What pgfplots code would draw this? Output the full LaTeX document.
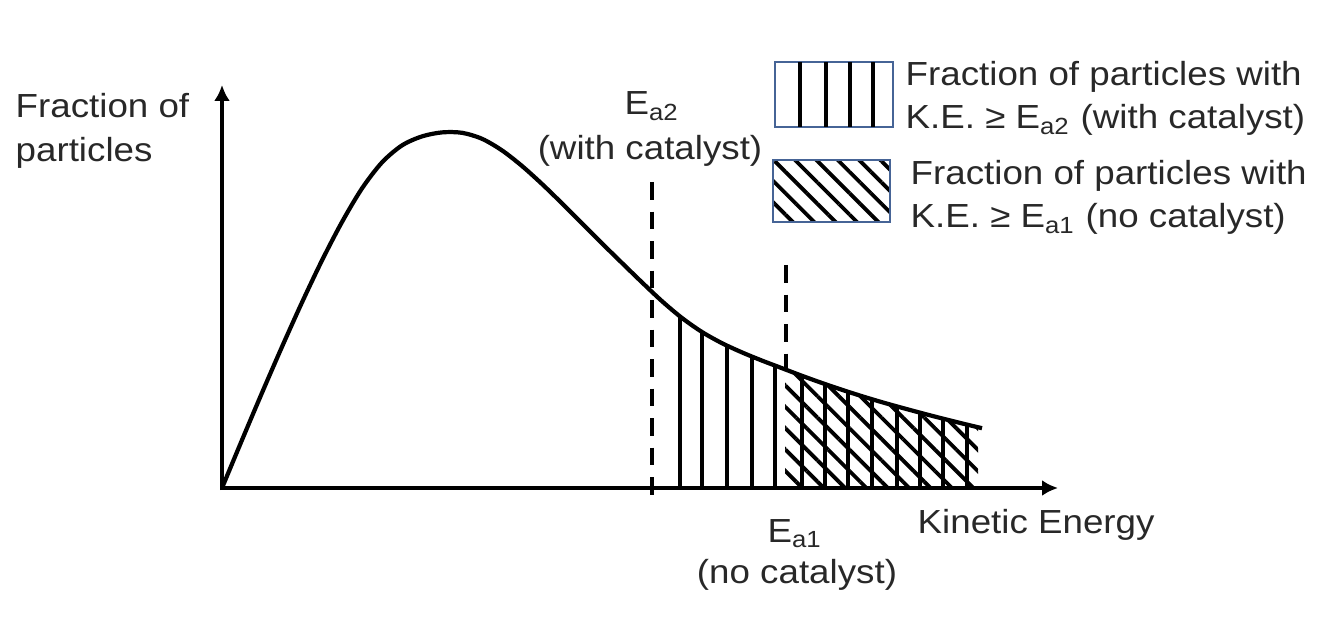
\documentclass[border=0pt]{standalone}
\usepackage{fontspec}
\setmainfont{Liberation Sans}[FakeStretch=1.1]
\usepackage{pgfplots}
\pgfplotsset{compat=1.18}
\usetikzlibrary{patterns.meta,arrows.meta}
\definecolor{legblue}{RGB}{70,100,150}
\definecolor{txt}{RGB}{40,40,40}
\begin{document}
\begin{tikzpicture}[font=\fontsize{9.5}{12.2}\selectfont]
\begin{axis}[hide axis, scale only axis, width=13.4cm, height=6.26cm,
  xmin=0, xmax=1340, ymin=-138, ymax=488, clip=false,
  cycle list={{black}}, no markers]
% vertical hatch (K.E. >= Ea2)
\addplot[ycomb, black, line width=1.1pt] coordinates {
 (680,171.7)(702,156)(727,142.5)(752,131.5)(775,122.5)(802,112.2)(825,104)(848,96.3)
 (872,88.8)(897,81.6)(920,75.3)(943,69.3)(967,63.4)};
% diagonal hatch (K.E. >= Ea1)
\addplot[draw=none, pattern={Lines[angle=-45,distance=4.3pt,line width=1.1pt]}] coordinates {
 (785,0)(785,118.7)(802,112.2)(822,105.0)(842,98.2)(862,91.8)(882,85.8)(902,80.2)(922,74.8)(942,69.6)(962,64.6)(978,60.8)(978,0)} --cycle;
% distribution curve
\addplot[black, line width=1.2pt, smooth] coordinates {
 (222,0)(242,48)(262,95.2)(282,141.2)(302,185.6)(322,227.6)(342,266.0)(362,299.6)
 (382,325.6)(402,342.6)(422,351.6)(442,355.6)(462,355.2)(482,349.2)(502,337.6)
 (522,322.0)(542,304.0)(562,284.6)(582,264.6)(602,244.6)(622,225.0)(642,205.6)
 (662,186.8)(682,170.0)(702,156.0)(722,144.8)(742,135.6)(762,127.4)(782,119.8)
 (802,112.2)(822,105.0)(842,98.2)(862,91.8)(882,85.8)(902,80.2)(922,74.8)
 (942,69.6)(962,64.6)(982,59.8)};
% dashed activation energy lines
\addplot[black, line width=1.1pt, dash pattern=on 5pt off 3.4pt] coordinates {(652,306)(652,-7)};
\addplot[black, line width=1.1pt, dash pattern=on 5pt off 3.4pt] coordinates {(786,223)(786,116)};
% axes
\addplot[black, line width=1.1pt, -{Latex[length=1.6mm,width=1.6mm]}] coordinates {(222,-2)(222,403)};
\addplot[black, line width=1.1pt, -{Latex[length=1.6mm,width=1.6mm]}] coordinates {(221,0)(1058,0)};
% legend boxes
\addplot[draw=legblue, line width=0.8pt, fill=white] coordinates {(775,361)(893,361)(893,426)(775,426)} --cycle;
\addplot[black, line width=1.1pt] coordinates {(800,361)(800,426)};
\addplot[black, line width=1.1pt] coordinates {(826,361)(826,426)};
\addplot[black, line width=1.1pt] coordinates {(850,361)(850,426)};
\addplot[black, line width=1.1pt] coordinates {(873,361)(873,426)};
\addplot[draw=legblue, line width=0.8pt, pattern={Lines[angle=-45,distance=4.3pt,line width=1.1pt]}] coordinates {(773,266)(890,266)(890,328)(773,328)} --cycle;
% texts
\node[anchor=base west, inner sep=0, txt] at (axis cs:15,370) {Fraction of};
\node[anchor=base west, inner sep=0, txt] at (axis cs:15,326) {particles};
\node[anchor=base, inner sep=0, txt] at (axis cs:652,373) {E\textsubscript{a2}};
\node[anchor=base, inner sep=0, txt] at (axis cs:650,328) {(with catalyst)};
\node[anchor=base west, inner sep=0, txt] at (axis cs:905,402) {Fraction of particles with};
\node[anchor=base west, inner sep=0, txt] at (axis cs:905,359) {K.E. ≥ E\textsubscript{a2} (with catalyst)};
\node[anchor=base west, inner sep=0, txt] at (axis cs:910,303) {Fraction of particles with};
\node[anchor=base west, inner sep=0, txt] at (axis cs:910,260) {K.E. ≥ E\textsubscript{a1} (no catalyst)};
\node[anchor=base, inner sep=0, txt] at (axis cs:795,-54) {E\textsubscript{a1}};
\node[anchor=base, inner sep=0, txt] at (axis cs:797,-95) {(no catalyst)};
\node[anchor=base west, inner sep=0, txt] at (axis cs:917,-45) {Kinetic Energy};
\end{axis}
\pgfresetboundingbox
\path (current axis.south west) rectangle (current axis.north east);
\end{tikzpicture}
\end{document}
